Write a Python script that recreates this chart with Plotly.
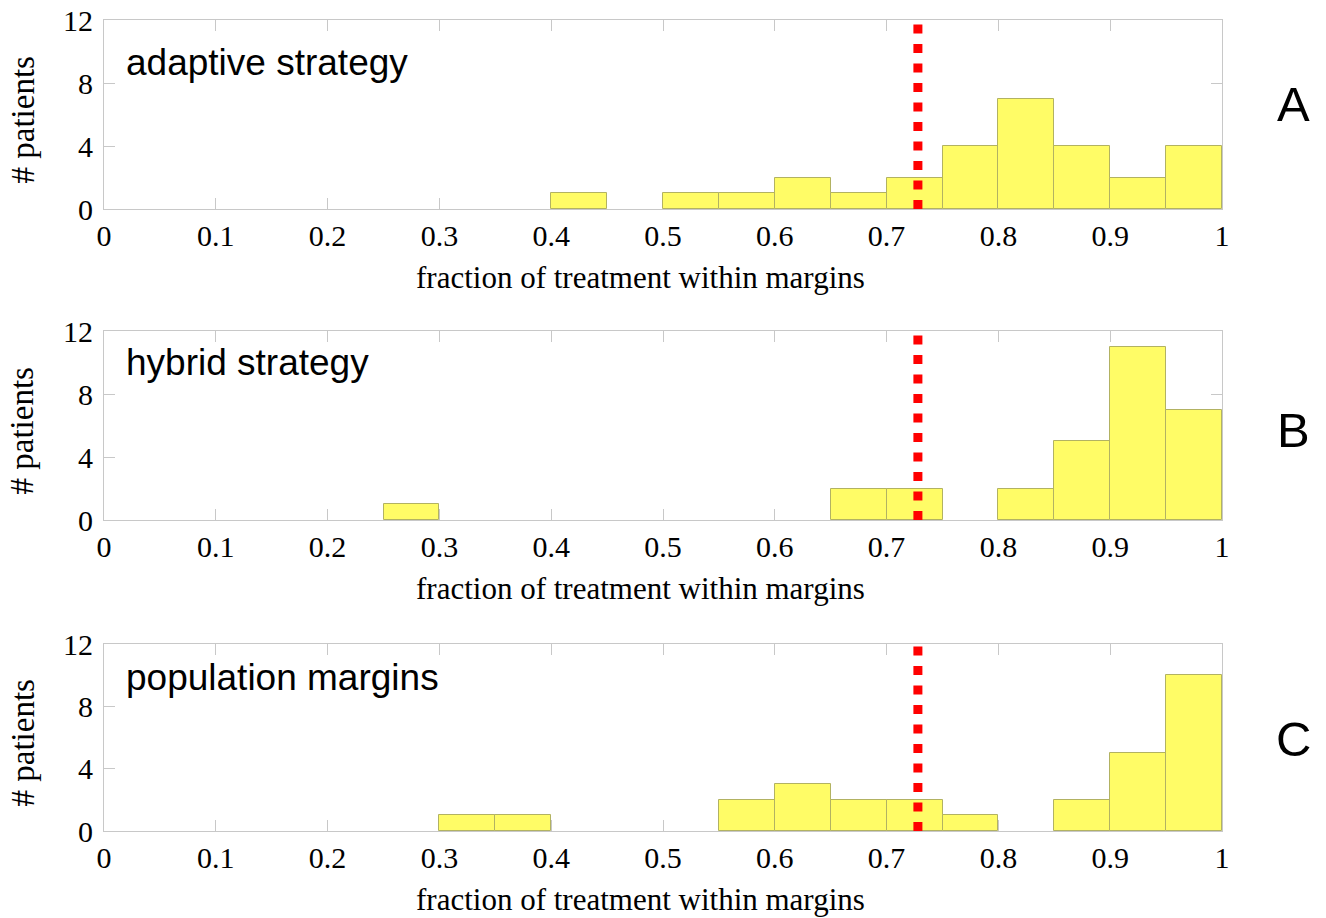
import plotly.graph_objects as go

# ---------------- data ----------------
bin_centers = [0.025, 0.075, 0.125, 0.175, 0.225, 0.275, 0.325, 0.375, 0.425, 0.475,
               0.525, 0.575, 0.625, 0.675, 0.725, 0.775, 0.825, 0.875, 0.925, 0.975]
bin_width = 0.05
counts_adaptive = [0, 0, 0, 0, 0, 0, 0, 0, 1, 0, 1, 1, 2, 1, 2, 4, 7, 4, 2, 4]
counts_hybrid = [0, 0, 0, 0, 0, 1, 0, 0, 0, 0, 0, 0, 0, 2, 2, 0, 2, 5, 11, 7]
counts_population = [0, 0, 0, 0, 0, 0, 1, 1, 0, 0, 0, 2, 3, 2, 2, 1, 0, 2, 5, 10]
threshold = 0.728

panel_titles = ["adaptive strategy", "hybrid strategy", "population margins"]
panel_letters = ["A", "B", "C"]
x_tickvals = [0, 0.1, 0.2, 0.3, 0.4, 0.5, 0.6, 0.7, 0.8, 0.9, 1.0]
x_ticktext = ["0", "0.1", "0.2", "0.3", "0.4", "0.5", "0.6", "0.7", "0.8", "0.9", "1"]
y_tickvals = [0, 4, 8, 12]
x_label = "fraction of treatment within margins"
y_label = "# patients"

# ---------------- layout geometry (pixels) ----------------
W, H = 1326, 918
plot_left, plot_right = 104, 1222
panels_px = [(20, 209), (331, 520), (644, 831)]  # (top, bottom)
title_y_px = [63, 363, 677]
letter_y_px = [104, 430, 739]

def px_x(p):
    return p / W

def px_y(p):
    return 1 - p / H

SERIF = "Liberation Serif, Times New Roman, serif"
SANS = "Liberation Sans, Arial, sans-serif"
AXIS_GRAY = "#c8c8c8"

fig = go.Figure()
all_counts = [counts_adaptive, counts_hybrid, counts_population]

annotations = []
for i, counts in enumerate(all_counts):
    xa = "x" if i == 0 else f"x{i+1}"
    ya = "y" if i == 0 else f"y{i+1}"
    xs = [c for c, n in zip(bin_centers, counts) if n > 0]
    ys = [n for n in counts if n > 0]
    fig.add_trace(go.Bar(
        x=xs, y=ys, width=bin_width, xaxis=xa, yaxis=ya,
        marker=dict(color="#FFFC66", line=dict(color="#B2B262", width=1)),
        showlegend=False, hoverinfo="x+y",
    ))
    fig.add_trace(go.Scatter(
        x=[threshold, threshold], y=[0, 12], xaxis=xa, yaxis=ya, mode="lines",
        line=dict(color="#FF0000", width=9, dash="9px,10.5px"),
        showlegend=False, hoverinfo="skip",
    ))

    top, bot = panels_px[i]
    xkey = "xaxis" if i == 0 else f"xaxis{i+1}"
    ykey = "yaxis" if i == 0 else f"yaxis{i+1}"
    fig.update_layout(**{
        xkey: dict(
            domain=[px_x(plot_left), px_x(plot_right)], anchor=ya,
            range=[0, 1], tickvals=x_tickvals, ticktext=x_ticktext,
            ticks="inside", ticklen=11, tickcolor=AXIS_GRAY, tickwidth=1,
            showline=True, linecolor=AXIS_GRAY, linewidth=1, mirror="allticks",
            showgrid=False, zeroline=False, layer="below traces",
            tickfont=dict(family=SERIF, size=30, color="black"),
            automargin=False,
        ),
        ykey: dict(
            domain=[px_y(bot), px_y(top)], anchor=xa,
            range=[0, 12], tickvals=y_tickvals,
            ticks="inside", ticklen=11, tickcolor=AXIS_GRAY, tickwidth=1,
            showline=True, linecolor=AXIS_GRAY, linewidth=1, mirror="allticks",
            showgrid=False, zeroline=False, ticklabelstandoff=4, layer="below traces",
            tickfont=dict(family=SERIF, size=30, color="black"),
            automargin=False,
        ),
    })

    annotations.append(dict(
        text=panel_titles[i], xref="paper", yref="paper",
        x=px_x(124), y=px_y(title_y_px[i]), xanchor="left", yanchor="middle",
        showarrow=False, font=dict(family=SANS, size=37, color="black"),
    ))
    annotations.append(dict(
        text=panel_letters[i], xref="paper", yref="paper",
        x=px_x(1293), y=px_y(letter_y_px[i]), xanchor="center", yanchor="middle",
        showarrow=False, font=dict(family=SANS, size=49, color="black"),
    ))
    annotations.append(dict(
        text=x_label, xref="paper", yref="paper",
        x=px_x(640), y=px_y(bot + 68), xanchor="center", yanchor="middle",
        showarrow=False, font=dict(family=SERIF, size=31, color="black"),
    ))
    annotations.append(dict(
        text=y_label, xref="paper", yref="paper", textangle=-90,
        x=px_x(22), y=px_y((top + bot) / 2 + 6), xanchor="center", yanchor="middle",
        showarrow=False, font=dict(family=SERIF, size=33, color="black"),
    ))

fig.update_layout(
    width=W, height=H,
    margin=dict(l=0, r=0, t=0, b=0),
    paper_bgcolor="white", plot_bgcolor="white",
    bargap=0, annotations=annotations,
)

fig.write_html(
    "out.html",
    config={"displayModeBar": False},
    post_script="document.body.style.margin='0';document.body.style.overflow='hidden';",
)
